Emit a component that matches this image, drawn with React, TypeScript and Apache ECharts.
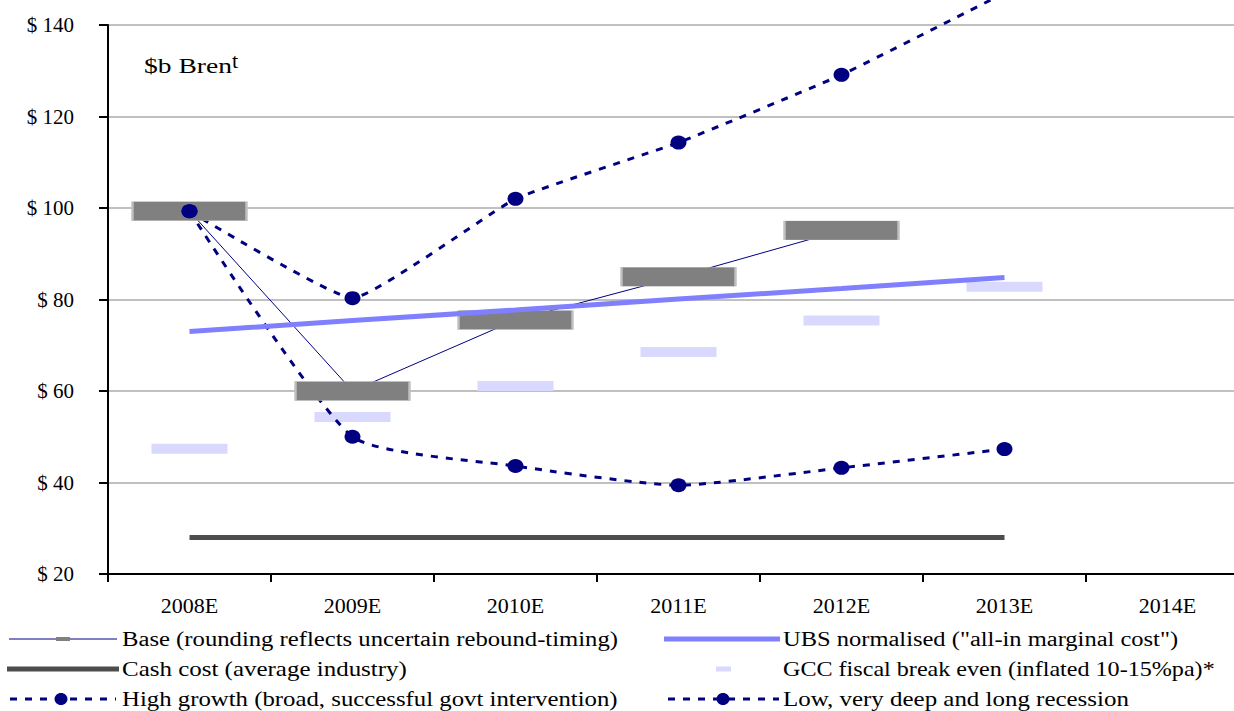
import React, { useEffect, useRef } from "react";
import * as echarts from "echarts";

const years = ["2008E", "2009E", "2010E", "2011E", "2012E", "2013E", "2014E"];
const baseVals = [99.3, 60.0, 75.5, 85.0, 95.1, null, null];
const ubsVals = [73.0, 75.4, 77.7, 80.1, 82.4, 84.8, null];
const cashVals = [28, 28, 28, 28, 28, 28, null];
const gccVals = [47.4, 54.3, 61.1, 68.5, 75.4, 82.8, null];
const highVals = [99.3, 80.3, 102.0, 114.3, 129.1, 147, null];
const lowVals = [99.3, 50.0, 43.6, 39.4, 43.2, 47.3, null];
const yTicks = { min: 20, max: 140, interval: 20 };

const legendTexts = {
  base: "Base (rounding reflects uncertain rebound-timing)",
  ubs: 'UBS normalised ("all-in marginal cost")',
  cash: "Cash cost (average industry)",
  gcc: "GCC fiscal break even (inflated 10-15%pa)*",
  high: "High growth (broad, successful govt intervention)",
  low: "Low, very deep and long recession",
};

const SERIF = '"Liberation Serif", "Times New Roman", serif';
const NAVY = "#000080";

function measure(text: string, size: number): number {
  const c = document.createElement("canvas").getContext("2d");
  if (!c) return text.length * size * 0.45;
  c.font = `${size}px ${SERIF}`;
  return c.measureText(text).width;
}

function fitText(text: string, x: number, y: number, width: number, size = 20) {
  const w = measure(text, size);
  return {
    type: "text",
    x,
    y,
    scaleX: w > 0 ? width / w : 1,
    silent: true,
    style: {
      text,
      fontSize: size,
      fontFamily: SERIF,
      fill: "#000",
      align: "left",
      verticalAlign: "middle",
    },
  };
}

export default function App() {
  const ref = useRef<HTMLDivElement>(null);

  useEffect(() => {
    if (!ref.current) return;
    const chart = echarts.init(ref.current, null, { renderer: "svg" });
    const r1 = 639, r2 = 669, r3 = 699;
    const graphic: any[] = [
      fitText("$b Bren", 144, 65.5, 88, 21),
      {
        type: "text", x: 232, y: 60, silent: true,
        style: { text: "t", fontSize: 22, fontFamily: SERIF, fill: "#000", align: "left", verticalAlign: "middle" },
      },
      // row 1
      { type: "line", silent: true, shape: { x1: 9, y1: r1, x2: 117, y2: r1 }, style: { stroke: NAVY, lineWidth: 1 } },
      { type: "rect", silent: true, shape: { x: 56, y: r1 - 2, width: 14, height: 4 }, style: { fill: "#808080" } },
      fitText(legendTexts.base, 122, r1, 496),
      { type: "line", silent: true, shape: { x1: 664, y1: r1, x2: 780, y2: r1 }, style: { stroke: "#8080ff", lineWidth: 5 } },
      fitText(legendTexts.ubs, 783, r1, 395),
      // row 2
      { type: "line", silent: true, shape: { x1: 7, y1: r2, x2: 119, y2: r2 }, style: { stroke: "#4d4d4d", lineWidth: 5 } },
      fitText(legendTexts.cash, 122, r2, 285),
      { type: "rect", silent: true, shape: { x: 716, y: r2 - 2.5, width: 15, height: 5 }, style: { fill: "#d9d9ff" } },
      fitText(legendTexts.gcc, 783, r2, 432),
      // row 3
      { type: "line", silent: true, shape: { x1: 10, y1: r3, x2: 116, y2: r3 }, style: { stroke: NAVY, lineWidth: 3, lineDash: [7, 8] } },
      { type: "ellipse", silent: true, shape: { cx: 61, cy: r3, rx: 6.5, ry: 6 }, style: { fill: NAVY } },
      fitText(legendTexts.high, 122, r3, 496),
      { type: "line", silent: true, shape: { x1: 668, y1: r3, x2: 779, y2: r3 }, style: { stroke: NAVY, lineWidth: 3, lineDash: [7, 8] } },
      { type: "ellipse", silent: true, shape: { cx: 723, cy: r3, rx: 6.5, ry: 6 }, style: { fill: NAVY } },
      fitText(legendTexts.low, 783, r3, 346),
    ];

    const dashed = { color: NAVY, width: 3, type: [7, 8] as any };

    chart.setOption({
      animation: false,
      backgroundColor: "#fff",
      grid: { left: 108, top: 25, width: 1141, height: 549, containLabel: false },
      xAxis: {
        type: "category",
        data: years,
        boundaryGap: true,
        axisLine: { lineStyle: { color: "#000", width: 2 } },
        axisTick: { show: true, length: 8, lineStyle: { color: "#000", width: 2 } },
        axisLabel: { color: "#000", fontSize: 22, fontFamily: SERIF, margin: 20 },
        splitLine: { show: false },
      },
      yAxis: {
        type: "value",
        min: yTicks.min,
        max: yTicks.max,
        interval: yTicks.interval,
        axisLine: { show: true, lineStyle: { color: "#000", width: 2 } },
        axisTick: { show: true, length: 9, lineStyle: { color: "#000", width: 2 } },
        axisLabel: { color: "#000", fontSize: 21, fontFamily: SERIF, margin: 34, formatter: "$ {value}" },
        splitLine: { show: true, lineStyle: { color: "#c0c0c0", width: 2 } },
      },
      graphic,
      series: [
        {
          type: "scatter", name: "GCC fiscal break even", data: gccVals, symbol: "rect",
          symbolSize: [76, 10], itemStyle: { color: "#d9d9ff", opacity: 1 }, z: 1, silent: true,
        },
        {
          type: "line", name: "Base", data: baseVals, symbol: "none", showSymbol: false,
          lineStyle: { color: NAVY, width: 1 }, z: 2, silent: true,
        },
        {
          type: "line", name: "High growth", data: highVals, symbol: "none", showSymbol: false,
          smooth: 0.12, clip: false, lineStyle: dashed, z: 2, silent: true,
        },
        {
          type: "line", name: "Low", data: lowVals, symbol: "none", showSymbol: false,
          smooth: 0.18, lineStyle: dashed, z: 2, silent: true,
        },
        {
          type: "scatter", name: "Base", data: baseVals, symbol: "rect", symbolSize: [114, 19],
          itemStyle: { color: "#808080", borderColor: "#c0c0c0", borderWidth: 1, opacity: 1 }, z: 3, silent: true,
        },
        {
          type: "line", name: "UBS normalised", data: ubsVals, symbol: "none", showSymbol: false,
          lineStyle: { color: "#8080ff", width: 5 }, z: 4, silent: true,
        },
        {
          type: "line", name: "Cash cost", data: cashVals, symbol: "none", showSymbol: false,
          lineStyle: { color: "#4d4d4d", width: 5 }, z: 4, silent: true,
        },
        {
          type: "scatter", name: "High growth", data: highVals, symbol: "circle", symbolSize: [16, 14],
          itemStyle: { color: NAVY, opacity: 1 }, z: 5, clip: false, silent: true,
        },
        {
          type: "scatter", name: "Low", data: lowVals, symbol: "circle", symbolSize: [16, 14],
          itemStyle: { color: NAVY, opacity: 1 }, z: 5, silent: true,
        },
      ],
    });
    return () => chart.dispose();
  }, []);

  return (
    <div
      style={{ position: "absolute", left: 0, top: 0, width: 1234, height: 711, overflow: "hidden", background: "#fff" }}
    >
      <div ref={ref} style={{ width: 1260, height: 711 }} />
    </div>
  );
}
